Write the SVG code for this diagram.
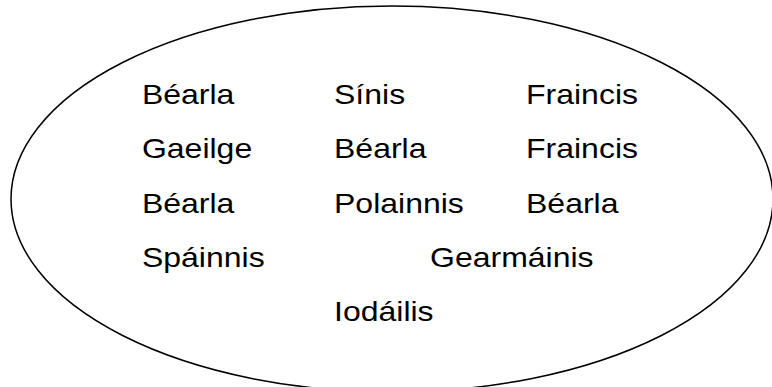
<svg xmlns="http://www.w3.org/2000/svg" width="772" height="387" viewBox="0 0 772 387">
  <style>
    .lbl { font-family: "Liberation Sans", Arial, sans-serif; font-size: 27px; fill: #000; }
  </style>
  <rect width="772" height="387" fill="#fff"/>
  <g id="set">
    <ellipse cx="392" cy="199" rx="381" ry="193" fill="none" stroke="#000" stroke-width="1.5"/>
  </g>
  <g id="labels" transform="scale(1.185 1)">
    <g id="r1">
      <text class="lbl" x="119.8" y="104">Béarla</text>
      <text class="lbl" x="281.9" y="104">Sínis</text>
      <text class="lbl" x="443.9" y="104">Fraincis</text>
    </g>
    <g id="r2">
      <text class="lbl" x="119.8" y="158.5">Gaeilge</text>
      <text class="lbl" x="281.9" y="158.5">Béarla</text>
      <text class="lbl" x="443.9" y="158.5">Fraincis</text>
    </g>
    <g id="r3">
      <text class="lbl" x="119.8" y="213">Béarla</text>
      <text class="lbl" x="281.9" y="213">Polainnis</text>
      <text class="lbl" x="443.9" y="213">Béarla</text>
    </g>
    <g id="r4">
      <text class="lbl" x="119.8" y="267">Spáinnis</text>
      <text class="lbl" x="362.9" y="267">Gearmáinis</text>
    </g>
    <g id="r5">
      <text class="lbl" x="281.9" y="321">Iodáilis</text>
    </g>
  </g>
</svg>
